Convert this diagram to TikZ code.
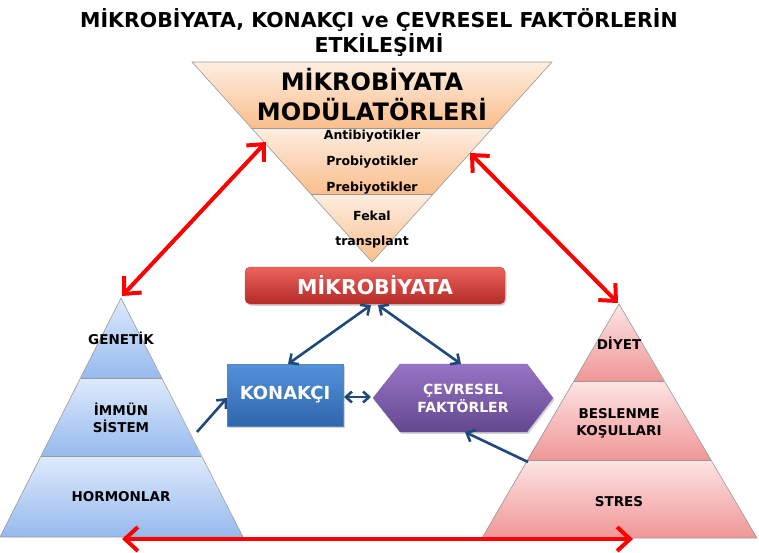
\documentclass[tikz,border=0pt]{standalone}
\usepackage{fontspec}
\setmainfont{DejaVu Sans}
\usetikzlibrary{arrows.meta,shadows}
\definecolor{orA}{RGB}{253,238,225}
\definecolor{orB}{RGB}{250,190,140}
\definecolor{blA}{RGB}{222,234,252}
\definecolor{blB}{RGB}{150,186,238}
\definecolor{pkA}{RGB}{253,228,228}
\definecolor{pkB}{RGB}{240,150,150}
\definecolor{rdA}{RGB}{236,98,92}
\definecolor{rdB}{RGB}{180,42,38}
\definecolor{knA}{RGB}{82,146,218}
\definecolor{knB}{RGB}{48,102,172}
\definecolor{cvA}{RGB}{152,116,198}
\definecolor{cvB}{RGB}{98,72,142}
\definecolor{arrblue}{RGB}{31,73,125}
\definecolor{arrred}{RGB}{255,0,0}
\begin{document}
\begin{tikzpicture}[x=1pt,y=-1pt,
  redarrow/.style={draw=arrred,line width=4pt,{Straight Barb[length=13pt,width=24pt,line width=4pt]}-{Straight Barb[length=13pt,width=24pt,line width=4pt]}},
  bluearrow/.style={draw=arrblue,line width=2.6pt,-{Straight Barb[length=7pt,width=13pt,line width=2.6pt]}},
  bluedouble/.style={bluearrow,{Straight Barb[length=7pt,width=13pt,line width=2.6pt]}-{Straight Barb[length=7pt,width=13pt,line width=2.6pt]}},
  band/.style={draw=gray!80,line width=0.6pt},
  lbl/.style={font=\fontsize{13.5}{15}\selectfont\bfseries,align=center,inner sep=0pt},
  mod/.style={font=\fontsize{12.5}{14}\selectfont\bfseries,inner sep=0pt},
  boxshadow/.style={drop shadow={opacity=0.35,shadow xshift=1.5pt,shadow yshift=-1.8pt}},
]
\useasboundingbox (0,0) rectangle (759,552);

% title
\node[font=\fontsize{20.5}{25}\selectfont\bfseries,align=center] (title) at (379,32)
  {MİKROBİYATA, KONAKÇI ve ÇEVRESEL FAKTÖRLERİN\\ETKİLEŞİMİ};

% inverted triangle
\shade[top color=orA,bottom color=orB] (192,62) -- (552,62) -- (492.6,128) -- (251.4,128) -- cycle;
\shade[top color=orA,bottom color=orB] (251.4,128) -- (492.6,128) -- (433.2,194) -- (310.8,194) -- cycle;
\shade[top color=orA,bottom color=orB] (310.8,194) -- (433.2,194) -- (372,262) -- cycle;
\draw[band] (192,62) -- (552,62) -- (372,262) -- cycle;
\draw[band] (251.4,128) -- (492.6,128);
\draw[band] (310.8,194) -- (433.2,194);
\node[font=\fontsize{24}{27}\selectfont\bfseries,inner sep=0pt] (modA) at (372,80) {MİKROBİYATA};
\node[font=\fontsize{24}{27}\selectfont\bfseries,inner sep=0pt] (modB) at (372,110) {MODÜLATÖRLERİ};
\node[mod] (anti) at (372,136) {Antibiyotikler};
\node[mod] (pro) at (372,162) {Probiyotikler};
\node[mod] (pre) at (372,188) {Prebiyotikler};
\node[mod] (fek) at (372,216) {Fekal};
\node[mod] (trans) at (372,242) {transplant};

% left pyramid
\shade[top color=blA,bottom color=blB] (121,298) -- (161.5,378) -- (80.5,378) -- cycle;
\shade[top color=blA,bottom color=blB] (80.5,378) -- (161.5,378) -- (201,456) -- (41,456) -- cycle;
\shade[top color=blA,bottom color=blB] (41,456) -- (201,456) -- (243,537) -- (0,537) -- cycle;
\draw[band] (121,298) -- (243,537) -- (0,537) -- cycle;
\draw[band] (80.5,378) -- (161.5,378);
\draw[band] (41,456) -- (201,456);
\node[lbl] (gen) at (121,338) {GENETİK};
\node[lbl] (imm) at (121,418) {İMMÜN\\[2pt]SİSTEM};
\node[lbl] (hor) at (121,497) {HORMONLAR};

% right pyramid
\shade[top color=pkA,bottom color=pkB] (619,304) -- (664,381) -- (574,381) -- cycle;
\shade[top color=pkA,bottom color=pkB] (574,381) -- (664,381) -- (711,460) -- (527,460) -- cycle;
\shade[top color=pkA,bottom color=pkB] (527,460) -- (711,460) -- (757,538) -- (482,538) -- cycle;
\draw[band] (619,304) -- (757,538) -- (482,538) -- cycle;
\draw[band] (574,381) -- (664,381);
\draw[band] (527,460) -- (711,460);
\node[lbl] (diy) at (619,343) {DİYET};
\node[lbl] (bes) at (619,423) {BESLENME\\[2pt]KOŞULLARI};
\node[lbl] (str) at (619,502) {STRES};

% central boxes
\node[boxshadow,top color=rdA,bottom color=rdB,draw=rdB!80,rounded corners=5pt,
  minimum width=260pt,minimum height=37pt,inner sep=0pt,text=white,
  font=\fontsize{20.5}{22}\selectfont\bfseries] (mik) at (375,285.5) {MİKROBİYATA};
\node[boxshadow,top color=knA,bottom color=knB,draw=knB!80,
  minimum width=116pt,minimum height=62pt,inner sep=0pt,text=white,
  font=\fontsize{18}{20}\selectfont\bfseries] (kon) at (285,395) {KONAKÇI};
\path[boxshadow,top color=cvA,bottom color=cvB,draw=cvB!80]
  (373,398) -- (400,364) -- (527,364) -- (553,398) -- (527,432) -- (400,432) -- cycle;
\node[text=white,align=center,font=\fontsize{14}{18}\selectfont\bfseries] (cev) at (463,398) {ÇEVRESEL\\FAKTÖRLER};

% connector end points
\coordinate (lrA) at (122,296);
\coordinate (lrB) at (266,142);
\coordinate (rrA) at (618,303);
\coordinate (rrB) at (470,153);
\coordinate (bL) at (122,539);
\coordinate (bR) at (633,539);
\coordinate (mikL) at (371,305);
\coordinate (mikR) at (378,305);
\coordinate (konT) at (288,364);
\coordinate (cevT) at (461,364);
\coordinate (konR) at (344,397);
\coordinate (cevL) at (371,397);
\coordinate (lpE) at (197,432);
\coordinate (konL) at (227,398);
\coordinate (rpE) at (528,462);
\coordinate (cevB) at (465,432);

% red arrows
\draw[redarrow] (lrA) -- (lrB);
\draw[redarrow] (rrA) -- (rrB);
\draw[redarrow] (bL) -- (bR);

% blue arrows
\draw[bluedouble] (mikL) -- (konT);
\draw[bluedouble] (mikR) -- (cevT);
\draw[bluedouble,{Straight Barb[length=6pt,width=11pt,line width=2.6pt]}-{Straight Barb[length=6pt,width=11pt,line width=2.6pt]}] (konR) -- (cevL);
\draw[bluearrow] (lpE) -- (konL);
\draw[bluearrow] (rpE) -- (cevB);
\end{tikzpicture}
\end{document}
